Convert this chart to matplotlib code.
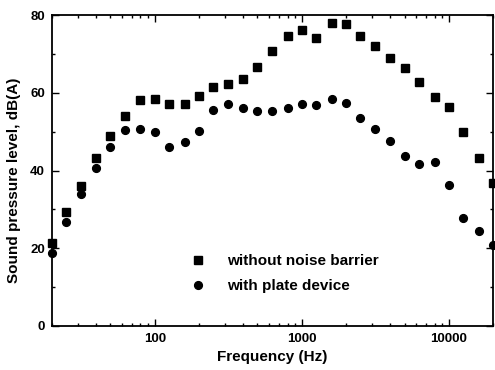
import matplotlib.pyplot as plt
from matplotlib.ticker import FixedLocator, FixedFormatter, MultipleLocator, LogLocator, NullFormatter

plt.rcParams['font.family'] = ['Liberation Sans', 'DejaVu Sans']

# 1/3 octave bands (Hz)
freq = [20, 25, 31.5, 40, 50, 63, 80, 100, 125, 160, 200, 250, 315, 400, 500, 630,
        800, 1000, 1250, 1600, 2000, 2500, 3150, 4000, 5000, 6300, 8000, 10000,
        12500, 16000, 20000]

# niveaux, dB(A)
without_barrier = [21.3, 29.3, 36.0, 43.2, 48.8, 54.1, 58.1, 58.3, 57.1, 57.1, 59.1,
                   61.5, 62.4, 63.5, 66.7, 70.8, 74.6, 76.1, 74.2, 78.0, 77.8, 74.6,
                   72.0, 69.0, 66.5, 62.7, 58.9, 56.4, 49.9, 43.3, 36.8]
with_plate = [18.8, 26.7, 33.9, 40.6, 46.1, 50.4, 50.6, 49.8, 46.1, 47.4, 50.2,
              55.7, 57.2, 56.2, 55.3, 55.3, 56.2, 57.2, 56.8, 58.4, 57.4, 53.5,
              50.6, 47.6, 43.8, 41.6, 42.3, 36.2, 27.8, 24.4, 20.8]

xticks = [100, 1000, 10000]
xtick_labels = ['100', '1000', '10000']

fig = plt.figure(figsize=(4.95, 3.7), dpi=100)
ax = fig.add_axes([0.105, 0.119, 0.891, 0.840])

ax.plot(freq, without_barrier, 's', color='black', ms=5.3, label='without noise barrier',
        clip_on=False, zorder=3)
ax.plot(freq, with_plate, 'o', color='black', ms=5.6, label='with plate device',
        clip_on=False, zorder=3)

ax.set_xscale('log')
ax.set_xlim(20, 20000)
ax.set_ylim(0, 80)

ax.xaxis.set_major_locator(FixedLocator(xticks))
ax.xaxis.set_major_formatter(FixedFormatter(xtick_labels))
ax.xaxis.set_minor_locator(LogLocator(base=10, subs=range(2, 10)))
ax.xaxis.set_minor_formatter(NullFormatter())
ax.yaxis.set_major_locator(MultipleLocator(20))
ax.yaxis.set_minor_locator(MultipleLocator(10))

ax.tick_params(which='both', direction='in', top=True, right=True, width=1.0)
ax.tick_params(which='major', length=5, labelsize=9.5, pad=5)
ax.tick_params(which='minor', length=2.5)
for lab in ax.get_xticklabels() + ax.get_yticklabels():
    lab.set_fontweight('bold')

for s in ax.spines.values():
    s.set_linewidth(1.3)

ax.set_xlabel('Frequency (Hz)', fontsize=11, fontweight='bold', labelpad=4)
ax.set_ylabel('Sound pressure level, dB(A)', fontsize=11, fontweight='bold')
ax.yaxis.set_label_coords(-0.070, 0.47)

leg = ax.legend(loc='upper left', bbox_to_anchor=(0.313, 0.232), frameon=False,
                handletextpad=1.4, labelspacing=0.72, handlelength=1.0,
                borderaxespad=0, borderpad=0, prop={'size': 11, 'weight': 'bold'})

fig.savefig('out.png', dpi=100)
